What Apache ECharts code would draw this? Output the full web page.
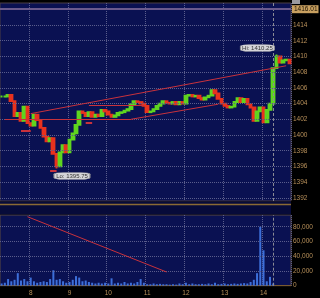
<!DOCTYPE html>
<html><head><meta charset="utf-8">
<script src="https://cdn.jsdelivr.net/npm/echarts@6/dist/echarts.min.js"></script>
<style>html,body{margin:0;padding:0;background:#000;}#c{width:320px;height:298px;}</style>
</head><body><div id="c"></div>
<script>
const times = ["07:15","07:20","07:25","07:30","07:35","07:40","07:45","07:50","07:55",
"08:00","08:05","08:10","08:15","08:20","08:25","08:30","08:35","08:40","08:45","08:50","08:55",
"09:00","09:05","09:10","09:15","09:20","09:25","09:30","09:35","09:40","09:45","09:50","09:55",
"10:00","10:05","10:10","10:15","10:20","10:25","10:30","10:35","10:40","10:45","10:50","10:55",
"11:00","11:05","11:10","11:15","11:20","11:25","11:30","11:35","11:40","11:45","11:50","11:55",
"12:00","12:05","12:10","12:15","12:20","12:25","12:30","12:35","12:40","12:45","12:50","12:55",
"13:00","13:05","13:10","13:15","13:20","13:25","13:30","13:35","13:40","13:45","13:50","13:55",
"14:00","14:05","14:10","14:15","14:20","14:25","14:30","14:35","14:40"];

const closes = [1404.9,1404.9,1405.1,1404.3,1402.4,1402.8,1401.8,1403.6,1401.5,1401.2,
1402.6,1401.9,1400.9,1399.8,1399.2,1399.6,1397.6,1396.0,1397.8,1398.7,
1397.8,1399.4,1400.2,1401.3,1403.0,1402.8,1402.4,1402.9,1402.3,1402.6,
1402.4,1403.2,1403.0,1402.6,1402.3,1402.5,1402.8,1402.9,1403.1,1403.3,
1403.9,1404.3,1404.2,1404.0,1403.7,1402.9,1403.0,1403.3,1403.7,1404.0,
1404.3,1404.1,1404.0,1404.2,1403.9,1404.2,1404.0,1405.0,1405.1,1404.9,
1405.0,1404.7,1404.5,1404.8,1405.0,1405.7,1405.3,1404.6,1404.0,1403.7,
1403.5,1403.6,1404.2,1404.7,1404.2,1404.6,1403.9,1403.5,1401.8,1403.0,
1403.5,1401.6,1403.2,1404.0,1408.5,1410.0,1409.2,1409.5,1409.6,1409.13];

const volumes = [3000,4000,9000,6000,8000,17000,7000,9000,6000,11000,
6000,4000,5000,6000,5000,9000,21000,8000,9000,6000,
4000,5000,8000,13000,11000,6000,7000,5000,4000,3000,
4000,3000,4000,3000,10000,3000,4000,3000,5000,3000,
4000,3000,5000,9000,4000,2000,2000,3000,2000,2500,
2000,2000,1500,2000,1500,3000,2000,4000,2000,3000,
2000,2000,2500,2000,3000,2000,4000,2000,2500,3000,
2000,2500,3000,2500,3000,3500,3000,5000,8000,17000,
80000,48000,6000,12000,3000,0,0,0,0,0];

const priceTicks = [1392,1394,1396,1398,1400,1402,1404,1406,1408,1410,1412,1414];
const volumeTicks = [0,20000,40000,60000,80000];
const volumeGrid = [20000,40000,60000,80000];
const hiValue = 1410.25, hiTime = "14:20";
const loValue = 1395.75, loTime = "08:40";
const refLevel = 1416.01;
const lastPrice = 1409.13;
const markerTime = "14:15";
const priceTrendlines = [
  [["08:00",1402.72],["14:35",1408.81]],
  [["07:20",1402.0],["10:35",1402.0]],
  [["10:35",1402.0],["12:50",1403.92]],
  [["09:30",1403.8],["10:55",1403.8]]
];
const priceLevelMarks = [
  [["07:45",1400.56],["08:00",1400.56]],
  [["09:25",1401.5],["09:35",1401.5]],
  [["08:30",1395.43],["08:40",1395.43]]
];
const volumeTrendline = [["07:55",93600],["11:30",18600]];

const ohlc = closes.map((c,i)=>{
  const o = i ? closes[i-1] : c;
  let lo = Math.min(o,c), hi = Math.max(o,c);
  if (times[i]===loTime) lo = loValue;
  if (times[i]===hiTime) hi = hiValue;
  return [o,c,lo,hi];
});

const FONT = 'Liberation Sans';
const LBL = '#b8905a';
const GRIDC = '#5a5d8c';
const TREND = '#c8323c';
const isHour = (i,v) => v.slice(3)==='00';

const gridLine = v => ({yAxis:v, lineStyle:{type:'dotted', color:GRIDC, width:1}, label:{show:false}});
const trend = (seg,w) => [{coord:seg[0], lineStyle:{color:TREND, width:w, type:'solid'}}, {coord:seg[1]}];

const chart = echarts.init(document.getElementById('c'), null, {renderer:'canvas'});
chart.setOption({
  backgroundColor:'#000',
  animation:false,
  textStyle:{fontFamily:FONT},
  grid:[
    {left:0, right:29, top:3, height:198, show:true, backgroundColor:'#0a1152', borderColor:'#4a3e44', borderWidth:1},
    {left:0, right:29, top:215, height:70.7, show:true, backgroundColor:'#0a1152', borderColor:'#5a4a40', borderWidth:1}
  ],
  graphic:[
    {type:'rect', shape:{x:0, y:201.5, width:291, height:13}, style:{fill:'#070b3a'}, silent:true},
    {type:'line', shape:{x1:0, y1:204.5, x2:291, y2:204.5}, style:{stroke:'#8a6a34', lineWidth:1.3}, silent:true},
    {type:'rect', shape:{x:292, y:0, width:8, height:4}, style:{fill:'#9a9aa0'}, silent:true}
  ],
  xAxis:[
    {type:'category', gridIndex:0, data:times, boundaryGap:true,
     axisLine:{show:false}, axisTick:{show:false}, axisLabel:{show:false},
     splitLine:{show:true, interval:isHour, lineStyle:{type:'dotted', color:GRIDC}}},
    {type:'category', gridIndex:1, data:times, boundaryGap:true,
     axisLine:{show:true, lineStyle:{color:'#7a5a30', width:1}}, axisTick:{show:false},
     axisLabel:{show:true, interval:isHour, formatter:v=>String(parseInt(v.slice(0,2),10)), color:LBL, fontSize:6.5, fontFamily:FONT, margin:4},
     splitLine:{show:true, interval:isHour, lineStyle:{type:'dotted', color:GRIDC}}}
  ],
  yAxis:[
    {type:'value', gridIndex:0, position:'right', min:1391.6, max:1416.8,
     axisLine:{show:false}, axisTick:{show:false}, splitLine:{show:false},
     axisLabel:{show:true, customValues:priceTicks, formatter:v=>String(v), color:LBL, fontSize:6.5, fontFamily:FONT, margin:2}},
    {type:'value', gridIndex:1, position:'right', min:0, max:95900,
     axisLine:{show:false}, axisTick:{show:false}, splitLine:{show:false},
     axisLabel:{show:true, customValues:volumeTicks, formatter:v=>Number(v).toLocaleString('en-US'), color:LBL, fontSize:6.5, fontFamily:FONT, margin:2}}
  ],
  series:[
    {type:'candlestick', xAxisIndex:0, yAxisIndex:0, data:ohlc, barWidth:3.2,
     itemStyle:{color:'#5fd51f', color0:'#e8321e', borderColor:'#5fd51f', borderColor0:'#e8321e', borderWidth:1.8},
     markLine:{silent:true, symbol:['none','none'], animation:false,
       data:[
         ...priceTicks.map(gridLine),
         {xAxis:markerTime, lineStyle:{type:[3,2], color:'#8a8a94', width:1}, label:{show:false}},
         {yAxis:refLevel, lineStyle:{type:'solid', color:'#6a5a8c', width:2},
          label:{show:true, position:'end', formatter:String(refLevel), distance:1, backgroundColor:'#c8a060', color:'#1a1000', padding:[1,1,0,2], fontSize:6.5, fontFamily:FONT}},
         {yAxis:lastPrice, lineStyle:{opacity:0},
          label:{show:true, position:'end', formatter:String(lastPrice), distance:1, backgroundColor:'#e0463c', color:'#ffe6e0', padding:[1,1,0,2], fontSize:6.5, fontFamily:FONT}},
         ...priceTrendlines.map(s=>trend(s,1)),
         ...priceLevelMarks.map(s=>trend(s,2))
       ]},
     markPoint:{silent:true, animation:false,
       data:[
         {coord:[hiTime,hiValue], symbol:'roundRect', symbolSize:[34,7], symbolOffset:[-19,-6.5],
          itemStyle:{color:'#d4d4d8', borderColor:'#8a8a90', borderWidth:0.5},
          label:{show:true, position:'inside', formatter:'Hi: '+hiValue, color:'#333', fontSize:6, fontFamily:FONT}},
         {coord:[loTime,loValue], symbol:'roundRect', symbolSize:[36,7], symbolOffset:[15.4,7.5],
          itemStyle:{color:'#d4d4d8', borderColor:'#8a8a90', borderWidth:0.5},
          label:{show:true, position:'inside', formatter:'Lo: '+loValue, color:'#333', fontSize:6, fontFamily:FONT}}
       ]}
    },
    {type:'bar', xAxisIndex:1, yAxisIndex:1, data:volumes, barWidth:2,
     itemStyle:{color:'#3d6fd9'},
     markLine:{silent:true, symbol:['none','none'], animation:false,
       data:[
         ...volumeGrid.map(gridLine),
         {xAxis:markerTime, lineStyle:{type:[3,2], color:'#8a8a94', width:1}, label:{show:false}},
         trend(volumeTrendline,1)
       ]}
    }
  ]
});
</script></body></html>
